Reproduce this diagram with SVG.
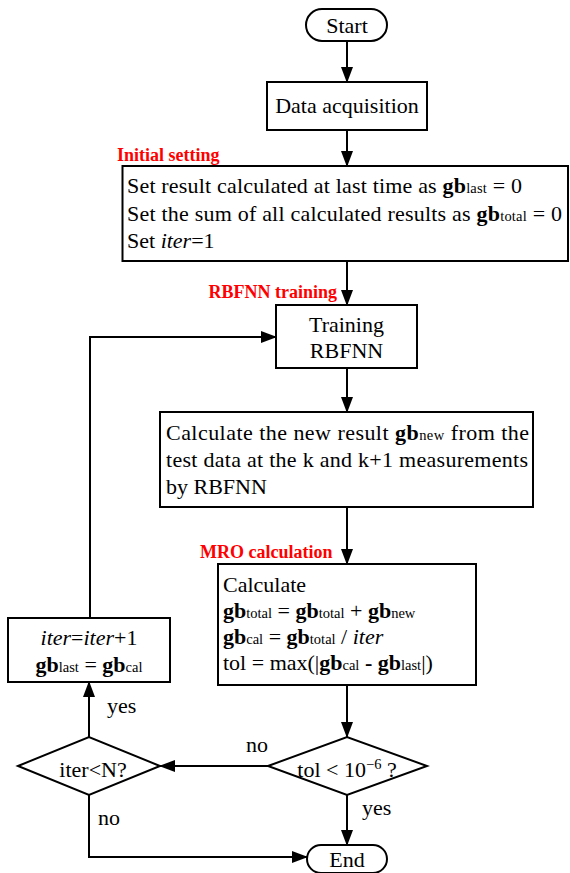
<svg xmlns="http://www.w3.org/2000/svg" width="570" height="873" viewBox="0 0 570 873">
<defs>
<marker id="ah" markerUnits="userSpaceOnUse" markerWidth="16" markerHeight="12" refX="15" refY="6" orient="auto">
<path d="M0,0 L16,6 L0,12 Z" fill="#000"/>
</marker>
<style>
.b{fill:#fff;stroke:#000;stroke-width:2}
.t{font-family:'Liberation Serif','Times New Roman',serif;font-size:22px;fill:#000}
.c{text-anchor:middle}
.r{font-family:'Liberation Serif','Times New Roman',serif;font-size:18px;font-weight:bold;fill:#ff0000}
.g{font-weight:bold}
.s{font-size:14.5px}
.i{font-style:italic}
.e{fill:none;stroke:#000;stroke-width:2;marker-end:url(#ah)}
</style>
</defs>
<rect width="570" height="873" fill="#fff"/>
<g id="connectors">
<line class="e" x1="347" y1="41" x2="347" y2="82"/>
<line class="e" x1="347" y1="130" x2="347" y2="166"/>
<line class="e" x1="347" y1="261" x2="347" y2="305"/>
<line class="e" x1="347" y1="368" x2="347" y2="412"/>
<line class="e" x1="347" y1="507" x2="347" y2="564"/>
<line class="e" x1="347" y1="685" x2="347" y2="737"/>
<line class="e" x1="268" y1="766" x2="160" y2="766"/>
<line class="e" x1="347" y1="795" x2="347" y2="845"/>
<polyline class="e" points="89,795 89,857 307,857"/>
<line class="e" x1="89" y1="737" x2="89" y2="682"/>
<polyline class="e" points="90,618 90,337 276,337"/>
<text class="t" x="246" y="752">no</text>
<text class="t" x="362" y="815">yes</text>
<text class="t" x="98" y="825">no</text>
<text class="t" x="107" y="713">yes</text>
</g>
<g id="start">
<rect class="b" x="306" y="9" width="81" height="32" rx="16"/>
<text class="t c" x="347" y="33">Start</text>
</g>
<g id="data">
<rect class="b" x="267" y="82" width="160" height="48"/>
<text class="t c" x="347" y="113">Data acquisition</text>
</g>
<g id="init">
<text class="r" x="117" y="161">Initial setting</text>
<rect class="b" x="122.5" y="166" width="445.5" height="95"/>
<text class="t" x="127" y="193" textLength="395" lengthAdjust="spacing">Set result calculated at last time as <tspan class="g">gb</tspan><tspan class="s">last</tspan> = 0</text>
<text class="t" x="127" y="221" textLength="435" lengthAdjust="spacing">Set the sum of all calculated results as <tspan class="g">gb</tspan><tspan class="s">total</tspan> = 0</text>
<text class="t" x="127" y="248">Set <tspan class="i">iter</tspan>=1</text>
</g>
<g id="training">
<text class="r" x="337" y="298" text-anchor="end">RBFNN training</text>
<rect class="b" x="276" y="305" width="141" height="63"/>
<text class="t c" x="346.5" y="332">Training</text>
<text class="t c" x="346.5" y="358">RBFNN</text>
</g>
<g id="calcnew">
<rect class="b" x="160" y="412" width="373" height="95"/>
<text class="t" x="166" y="440" textLength="363" lengthAdjust="spacing">Calculate the new result <tspan class="g">gb</tspan><tspan class="s">new</tspan> from the</text>
<text class="t" x="166" y="467" textLength="362" lengthAdjust="spacing">test data at the k and k+1 measurements</text>
<text class="t" x="166" y="494">by RBFNN</text>
</g>
<g id="mro">
<text class="r" x="200" y="558">MRO calculation</text>
<rect class="b" x="218" y="564" width="258" height="121"/>
<text class="t" x="223" y="592">Calculate</text>
<text class="t" x="223" y="618"><tspan class="g">gb</tspan><tspan class="s">total</tspan> = <tspan class="g">gb</tspan><tspan class="s">total</tspan> + <tspan class="g">gb</tspan><tspan class="s">new</tspan></text>
<text class="t" x="223" y="644"><tspan class="g">gb</tspan><tspan class="s">cal</tspan> = <tspan class="g">gb</tspan><tspan class="s">total</tspan> / <tspan class="i">iter</tspan></text>
<text class="t" x="223" y="670">tol = max(|<tspan class="g">gb</tspan><tspan class="s">cal</tspan> <tspan class="g">-</tspan> <tspan class="g">gb</tspan><tspan class="s">last</tspan>|)</text>
</g>
<g id="tol">
<polygon class="b" points="268,766 347,737 427,766 347,795"/>
<text class="t c" x="347" y="777">tol &lt; 10<tspan class="s" dy="-8">−6</tspan><tspan dy="8"> ?</tspan></text>
</g>
<g id="iterN">
<polygon class="b" points="18,766 89,737 160,766 89,795"/>
<text class="t c" x="93" y="777">iter&lt;N?</text>
</g>
<g id="end">
<rect class="b" x="307" y="845" width="80" height="28" rx="14"/>
<text class="t c" x="347" y="867">End</text>
</g>
<g id="update">
<rect class="b" x="8" y="618" width="162" height="64"/>
<text class="t c" x="89" y="645"><tspan class="i">iter</tspan>=<tspan class="i">iter</tspan>+1</text>
<text class="t c" x="89" y="672"><tspan class="g">gb</tspan><tspan class="s">last</tspan> = <tspan class="g">gb</tspan><tspan class="s">cal</tspan></text>
</g>
</svg>
